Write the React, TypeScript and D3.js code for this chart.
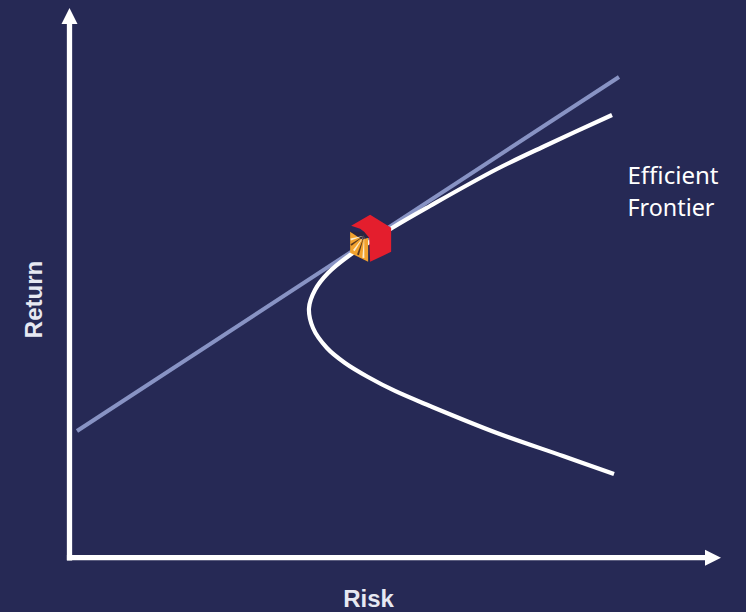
import React from "react";
import * as d3 from "d3";

const W = 746, H = 612;
const frontierRisk = [83.27, 73.29, 65.62, 55.33, 49.5, 43.05, 39.68, 37.68, 36.76, 37.38, 39.52, 42.29, 45.82, 49.96, 55.33, 65.62, 75.75, 83.58];
const frontierReturn = [80.53, 75.08, 70.71, 63.98, 59.98, 55.07, 51.79, 48.7, 45.42, 41.79, 38.15, 35.42, 32.87, 30.33, 27.6, 22.69, 18.5, 15.23];
const tangentRisk = [1.15, 84.34];
const tangentReturn = [23.05, 87.45];
const tangencyPoint = [46.3, 58];
const xAxisLabel = "Risk";
const yAxisLabel = "Return";
const curveLabel = ["Efficient", "Frontier"];
const rayAngles = [165, 145, 125, 108, 92];

const x = d3.scaleLinear().domain([0, 100]).range([69.5, 721]);
const y = d3.scaleLinear().domain([0, 100]).range([557.7, 8]);
const line = d3.line<number>().x((d) => x(frontierRisk[d])).y((d) => y(frontierReturn[d])).curve(d3.curveCatmullRom.alpha(0.5));

export default function App() {
  const cx = x(tangencyPoint[0]);
  const cy = y(tangencyPoint[1]);
  const poly = (pts: number[][]) => pts.map((p) => `${cx + p[0]},${cy + p[1]}`).join(" ");
  const ray = (a: number, len: number, w: number) => {
    const r = (a * Math.PI) / 180;
    const ox = -7, oy = -3;
    const tx = ox + len * Math.cos(r), ty = oy + len * Math.sin(r);
    const nx = -Math.sin(r) * w, ny = Math.cos(r) * w;
    return poly([[ox, oy], [tx + nx, ty + ny], [tx - nx, ty - ny]]);
  };
  return (
    <svg width={W} height={H} viewBox={`0 0 ${W} ${H}`} style={{ position: "fixed", left: 0, top: 0, display: "block", background: "#262955" }}>
      <line x1={x(tangentRisk[0])} y1={y(tangentReturn[0])} x2={x(tangentRisk[1])} y2={y(tangentReturn[1])} stroke="#8893c4" strokeWidth={4} />
      <path d={line(d3.range(frontierRisk.length)) ?? ""} fill="none" stroke="#ffffff" strokeWidth={4.2} />
      <line x1={x(0)} y1={y(0) + 2.7} x2={x(0)} y2={y(100) + 14} stroke="#fff" strokeWidth={5.3} />
      <line x1={x(0) - 2.6} y1={y(0)} x2={x(100) - 14} y2={y(0)} stroke="#fff" strokeWidth={5.3} />
      <polygon points={`${x(0)},${y(100)} ${x(0) - 8},${y(100) + 16} ${x(0) + 8},${y(100) + 16}`} fill="#fff" />
      <polygon points={`${x(100)},${y(0)} ${x(100) - 16},${y(0) - 8} ${x(100) - 16},${y(0) + 8}`} fill="#fff" />

      <polygon points={poly([[-21, -7], [-21, 14], [-3, 23], [-3, -1]])} fill="#f2a22e" />
      <polygon points={poly([[-21, -7], [-4, -7], [-3, -1], [-9, 1], [-15, -3]])} fill="#2a2540" />
      {rayAngles.map((a, i) => (
        <polygon key={a} points={ray(a, 14 + i * 2, 1)} fill={i % 2 ? "#5a3a20" : "#fbeccd"} />
      ))}
      <polygon points={poly([[-1, -24], [20, -11], [20, 13], [-1, 23], [-2, -1], [-7, -7], [-11, -10], [-20, -13]])} fill="#e41e2d" />

      <text x={627.5} y={184} fontFamily="'Noto Sans', sans-serif" fontSize={23} fill="#fff" textLength={91} lengthAdjust="spacingAndGlyphs">{curveLabel[0]}</text>
      <text x={627.5} y={216} fontFamily="'Noto Sans', sans-serif" fontSize={23} fill="#fff" textLength={87} lengthAdjust="spacingAndGlyphs">{curveLabel[1]}</text>
      <text x={368.5} y={606.5} textAnchor="middle" fontFamily="'Liberation Sans', sans-serif" fontWeight="bold" fontSize={24} fill="#e6e8f2">{xAxisLabel}</text>
      <text transform="translate(42,299.5) rotate(-90)" textAnchor="middle" fontFamily="'Liberation Sans', sans-serif" fontWeight="bold" fontSize={24} fill="#e6e8f2">{yAxisLabel}</text>
    </svg>
  );
}
